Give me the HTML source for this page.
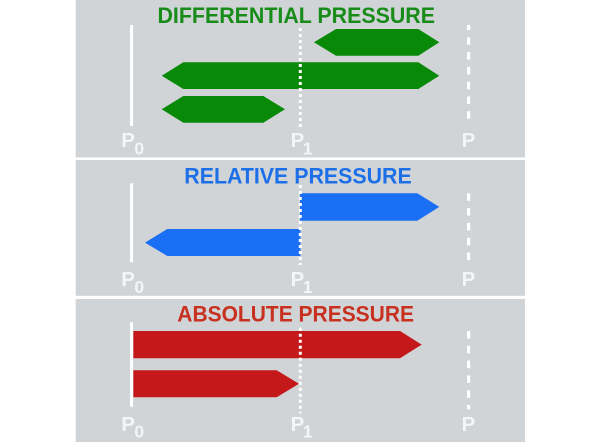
<!DOCTYPE html>
<html>
<head>
<meta charset="utf-8">
<style>
  html,body{margin:0;padding:0;background:#ffffff;}
  svg{display:block;}
  .t{font-family:"Liberation Sans",Arial,sans-serif;font-weight:bold;}
  .lbl{font-family:"Liberation Sans",Arial,sans-serif;font-weight:bold;fill:#f4f5f6;}
</style>
</head>
<body>
<svg width="600" height="442" viewBox="0 0 600 442" xmlns="http://www.w3.org/2000/svg">
  <rect x="0" y="0" width="600" height="442" fill="#ffffff"/>
  <!-- panels -->
  <rect x="75.7" y="0" width="449.3" height="157.5" fill="#d0d4d7"/>
  <rect x="75.7" y="160" width="449.3" height="135.8" fill="#d0d4d7"/>
  <rect x="75.7" y="299" width="449.3" height="143" fill="#d0d4d7"/>

  <!-- ===== Section 1: DIFFERENTIAL ===== -->
  <text class="t" x="157.5" y="23" font-size="22.4" fill="#188c18" textLength="277.5" lengthAdjust="spacingAndGlyphs">DIFFERENTIAL PRESSURE</text>
  <polygon points="314,42.3 336,29 418.3,29 439.3,42.3 418.3,55.7 336,55.7" fill="#088a08"/>
  <polygon points="161.7,75.7 183.3,62.3 418.3,62.3 439.3,75.7 418.3,89 183.3,89" fill="#088a08"/>
  <polygon points="161.7,109.3 183.3,96 263.3,96 285,109.3 263.3,122.7 183.3,122.7" fill="#088a08"/>
  <line x1="131.6" y1="25" x2="131.6" y2="126" stroke="#fff" stroke-width="3"/>
  <line x1="300.3" y1="28" x2="300.3" y2="127" stroke="#fff" stroke-width="3" stroke-dasharray="3 3"/>
  <line x1="468.6" y1="25" x2="468.6" y2="118.7" stroke="#fff" stroke-width="3.2" stroke-dasharray="7.5 7.3" stroke-dashoffset="2.5"/>
  <text class="lbl" x="121.3" y="147.2" font-size="20.5">P</text>
  <text class="lbl" x="134.4" y="154.3" font-size="17.5">0</text>
  <text class="lbl" x="290.6" y="147.2" font-size="20.5">P</text>
  <text class="lbl" x="302.8" y="154.3" font-size="17.5">1</text>
  <text class="lbl" x="461.6" y="147.2" font-size="20.5">P</text>

  <!-- ===== Section 2: RELATIVE ===== -->
  <text class="t" x="184.3" y="183.3" font-size="22.4" fill="#1d6fe8" textLength="227.4" lengthAdjust="spacingAndGlyphs">RELATIVE PRESSURE</text>
  <polygon points="300,193.3 417.3,193.3 439.3,206.9 417.3,220.7 300,220.7" fill="#1a6ff4"/>
  <polygon points="145,242.6 167.3,229 300.5,229 300.5,256 167.3,256" fill="#1a6ff4"/>
  <line x1="131.6" y1="183.3" x2="131.6" y2="262.3" stroke="#fff" stroke-width="3"/>
  <line x1="300.3" y1="185" x2="300.3" y2="265" stroke="#fff" stroke-width="3" stroke-dasharray="3 3"/>
  <line x1="468.6" y1="193.3" x2="468.6" y2="261.7" stroke="#fff" stroke-width="3.2" stroke-dasharray="7.5 7.3"/>
  <text class="lbl" x="121.3" y="286.2" font-size="20.5">P</text>
  <text class="lbl" x="134.4" y="293" font-size="17.5">0</text>
  <text class="lbl" x="290.6" y="286.2" font-size="20.5">P</text>
  <text class="lbl" x="302.8" y="293" font-size="17.5">1</text>
  <text class="lbl" x="461.6" y="286.2" font-size="20.5">P</text>

  <!-- ===== Section 3: ABSOLUTE ===== -->
  <text class="t" x="177.3" y="321.4" font-size="22.4" fill="#c8301f" textLength="236.7" lengthAdjust="spacingAndGlyphs">ABSOLUTE PRESSURE</text>
  <polygon points="133.3,331 400,331 421.7,344.6 400,358.3 133.3,358.3" fill="#c4181a"/>
  <polygon points="133.3,370.3 276.7,370.3 299,383.8 276.7,397.3 133.3,397.3" fill="#c4181a"/>
  <line x1="131.6" y1="322.3" x2="131.6" y2="406.7" stroke="#fff" stroke-width="3"/>
  <line x1="300.3" y1="327.7" x2="300.3" y2="413.3" stroke="#fff" stroke-width="3" stroke-dasharray="3 3"/>
  <line x1="468.6" y1="331" x2="468.6" y2="409.3" stroke="#fff" stroke-width="3.2" stroke-dasharray="7.5 7.3"/>
  <text class="lbl" x="121.3" y="431" font-size="20.5">P</text>
  <text class="lbl" x="134.4" y="437.3" font-size="17.5">0</text>
  <text class="lbl" x="290.6" y="431" font-size="20.5">P</text>
  <text class="lbl" x="302.8" y="437.3" font-size="17.5">1</text>
  <text class="lbl" x="461.6" y="431" font-size="20.5">P</text>
</svg>
</body>
</html>
